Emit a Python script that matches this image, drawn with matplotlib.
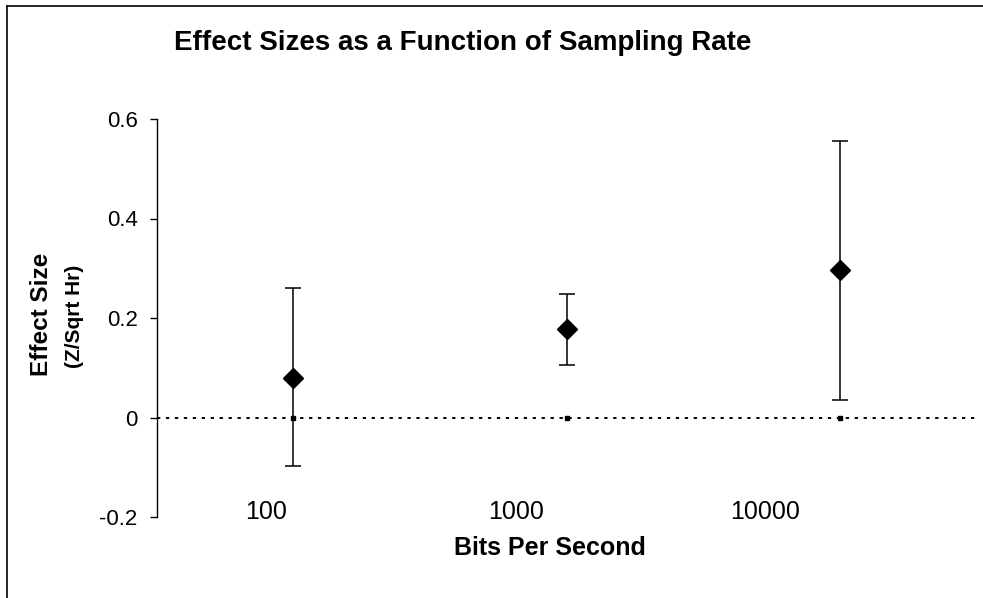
import numpy as np
import matplotlib
matplotlib.use("Agg")
from matplotlib import pyplot as plt
from matplotlib.lines import Line2D
from matplotlib.ticker import NullLocator

plt.rcParams['font.family'] = ['Liberation Sans', 'DejaVu Sans']

# data
rates = [128, 1600, 20000]            # bits per second
effect = [0.080, 0.178, 0.297]        # effect size (Z/sqrt hr)
upper = [0.261, 0.248, 0.556]
lower = [-0.098, 0.106, 0.036]
zero_line = [0, 0, 0]

x_ticks = [100, 1000, 10000]
x_tick_labels = ['100', '1000', '10000']
y_ticks = [-0.2, 0, 0.2, 0.4, 0.6]
y_tick_labels = ['-0.2', '0', '0.2', '0.4', '0.6']

W, H = 983, 598
fig = plt.figure(figsize=(W / 100, H / 100), dpi=100)
ax = fig.add_axes([157 / W, 1 - 517 / H, (975 - 157) / W, (517 - 119) / H])

eff = np.array(effect)
yerr = [eff - np.array(lower), np.array(upper) - eff]

# baseline at zero
ax.axhline(0, color='black', lw=1.4, linestyle=(0, (1.7, 2.9)), zorder=1)
ax.plot(rates, zero_line, linestyle='none', marker='s', ms=3.2, color='black', zorder=2)

ax.errorbar(rates, effect, yerr=yerr, fmt='D', ms=10, color='black',
            ecolor='black', elinewidth=1.1, capsize=6, capthick=1.1, zorder=3)

ax.set_xscale('log')
ax.set_xlim(36.4, 69500)
ax.set_ylim(-0.2, 0.6)
ax.xaxis.set_minor_locator(NullLocator())
ax.set_xticks(x_ticks, x_tick_labels, fontsize=18)
ax.set_yticks(y_ticks, y_tick_labels, fontsize=16)
ax.tick_params(axis='x', length=0, pad=-12)
ax.tick_params(axis='y', length=5, width=1, pad=9, direction='out')

for s in ['top', 'right', 'bottom']:
    ax.spines[s].set_visible(False)
ax.spines['left'].set_linewidth(1)

# titles and labels
fig.text(463 / W, 1 - 43 / H, 'Effect Sizes as a Function of Sampling Rate',
         ha='center', va='center', fontsize=20, fontweight='bold')
fig.text(550 / W, 1 - 548 / H, 'Bits Per Second',
         ha='center', va='center', fontsize=18, fontweight='bold')
fig.text(42 / W, 1 - 314 / H, 'Effect Size', rotation=90,
         ha='center', va='center', fontsize=17.5, fontweight='bold')
fig.text(74 / W, 1 - 316 / H, '(Z/Sqrt Hr)', rotation=90,
         ha='center', va='center', fontsize=15, fontweight='bold')

# chart frame (only left and top edges are in view)
fig.add_artist(Line2D([7 / W, 7 / W], [0, 1 - 6 / H], transform=fig.transFigure,
                      color='black', lw=1.2))
fig.add_artist(Line2D([7 / W, 1], [1 - 6 / H, 1 - 6 / H], transform=fig.transFigure,
                      color='black', lw=1.2))

fig.savefig('out.png', dpi=100)
